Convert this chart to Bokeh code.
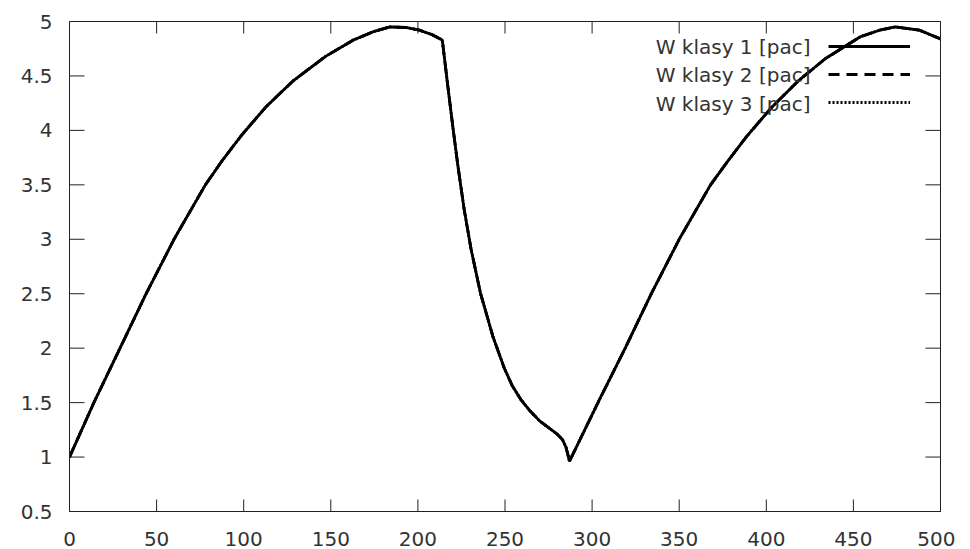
import numpy as np
from bokeh.plotting import figure
from bokeh.models import (Range1d, LinearAxis, FixedTicker, Legend, LegendItem,
                          Label, CustomJSTickFormatter)
from bokeh.embed import file_html
from bokeh.resources import INLINE

# ---- data ----
czas = [0, 14, 29, 44, 60, 78, 88, 99, 113, 128, 147, 163, 175, 184, 193, 201,
        208, 214, 217, 220, 223, 226.5, 230.5, 236, 243, 249.5, 254, 259, 264,
        270, 275, 280, 283, 285, 286, 287, 290, 304, 319, 334, 350, 368, 378,
        389, 403, 418, 434, 454, 465, 474, 488, 500]
klasa1 = [1.00, 1.50, 2.00, 2.50, 3.00, 3.50, 3.73, 3.96, 4.22, 4.45, 4.68,
          4.83, 4.91, 4.95, 4.945, 4.92, 4.88, 4.83, 4.43, 4.04, 3.67, 3.28,
          2.91, 2.50, 2.11, 1.82, 1.66, 1.53, 1.43, 1.33, 1.27, 1.21, 1.16,
          1.09, 1.03, 0.96, 1.06, 1.52, 2.00, 2.50, 3.00, 3.50, 3.72, 3.95,
          4.21, 4.45, 4.66, 4.86, 4.92, 4.95, 4.92, 4.84]
klasa2 = [1.00, 1.50, 2.00, 2.50, 3.00, 3.50, 3.73, 3.96, 4.22, 4.45, 4.68,
          4.83, 4.91, 4.95, 4.945, 4.92, 4.88, 4.83, 4.43, 4.04, 3.67, 3.28,
          2.91, 2.50, 2.11, 1.82, 1.66, 1.53, 1.43, 1.33, 1.27, 1.21, 1.16,
          1.09, 1.03, 0.96, 1.06, 1.52, 2.00, 2.50, 3.00, 3.50, 3.72, 3.95,
          4.21, 4.45, 4.66, 4.86, 4.92, 4.95, 4.92, 4.84]
klasa3 = [1.00, 1.50, 2.00, 2.50, 3.00, 3.50, 3.73, 3.96, 4.22, 4.45, 4.68,
          4.83, 4.91, 4.95, 4.945, 4.92, 4.88, 4.83, 4.43, 4.04, 3.67, 3.28,
          2.91, 2.50, 2.11, 1.82, 1.66, 1.53, 1.43, 1.33, 1.27, 1.21, 1.16,
          1.09, 1.03, 0.96, 1.06, 1.52, 2.00, 2.50, 3.00, 3.50, 3.72, 3.95,
          4.21, 4.45, 4.66, 4.86, 4.92, 4.95, 4.92, 4.84]
series_names = ["W klasy 1 [pac]", "W klasy 2 [pac]", "W klasy 3 [pac]"]
x_ticks = [0, 50, 100, 150, 200, 250, 300, 350, 400, 450, 500]
y_ticks = [0.5, 1, 1.5, 2, 2.5, 3, 3.5, 4, 4.5, 5]
y_tick_labels = ["0.5", "1", "1.5", "2", "2.5", "3", "3.5", "4", "4.5", "5"]
x_min, x_max = 0, 500
y_min, y_max = 0.5, 5

FONT = "DejaVu Sans"
TXT = "#333333"
AX = "#222222"
FS = "20px"

p = figure(width=955, height=549, output_backend="svg", toolbar_location=None,
           x_range=Range1d(x_min, x_max), y_range=Range1d(y_min, y_max),
           min_border_left=69, min_border_right=15, min_border_top=21,
           min_border_bottom=38, background_fill_color="white",
           border_fill_color="white")
p.grid.visible = False
p.outline_line_color = AX
p.outline_line_width = 1


def style_axis(ax, labels=True):
    ax.axis_line_color = AX
    ax.major_tick_line_color = None
    ax.major_tick_in = 0
    ax.major_tick_out = 0
    ax.minor_tick_line_color = None
    ax.major_label_text_font = FONT
    ax.major_label_text_font_size = FS
    ax.major_label_text_color = TXT
    if not labels:
        ax.formatter = CustomJSTickFormatter(code="return ''")
        ax.major_label_standoff = 0


p.xaxis.ticker = FixedTicker(ticks=x_ticks)
p.yaxis.ticker = FixedTicker(ticks=y_ticks)
p.yaxis.major_label_overrides = {t: s for t, s in zip(y_ticks, y_tick_labels)}
style_axis(p.xaxis[0])
style_axis(p.yaxis[0])
p.xaxis.major_label_standoff = 20
p.yaxis.major_label_standoff = 17

top = LinearAxis(ticker=FixedTicker(ticks=x_ticks))
style_axis(top, labels=False)
p.add_layout(top, "above")
right = LinearAxis(ticker=FixedTicker(ticks=y_ticks))
style_axis(right, labels=False)
p.add_layout(right, "right")

# inward tick marks on all four sides (gnuplot style, mirrored)
nx, ny = len(x_ticks), len(y_ticks)
p.ray(x=x_ticks, y=[y_min] * nx, length=12, length_units="screen",
      angle=np.pi / 2, line_color=AX, line_width=1)
p.ray(x=x_ticks, y=[y_max] * nx, length=12, length_units="screen",
      angle=-np.pi / 2, line_color=AX, line_width=1)
p.ray(x=[x_min] * ny, y=y_ticks, length=15, length_units="screen",
      angle=0, line_color=AX, line_width=1)
p.ray(x=[x_max] * ny, y=y_ticks, length=15, length_units="screen",
      angle=np.pi, line_color=AX, line_width=1)

r1 = p.line(czas, klasa1, line_color="black", line_width=2.8)
r2 = p.line(czas, klasa2, line_color="black", line_width=2.8, line_dash="11 7")
r3 = p.line(czas, klasa3, line_color="black", line_width=2.8, line_dash="2 2")

legend = Legend(items=[LegendItem(label=" ", renderers=[r]) for r in (r1, r2, r3)],
                location=(759, 399), glyph_width=82, glyph_height=20,
                label_width=0, label_height=20, label_standoff=0, spacing=8,
                padding=0, margin=0, border_line_alpha=0,
                background_fill_alpha=0, label_text_font_size="1px")
p.add_layout(legend)

for i, name in enumerate(series_names):
    p.add_layout(Label(x=741, y=465 - 28.5 * i, x_units="screen", y_units="screen",
                       text=name, text_align="right", text_baseline="middle",
                       text_font=FONT, text_font_size=FS, text_color=TXT))

open("out.html", "w").write(file_html(p, INLINE))
